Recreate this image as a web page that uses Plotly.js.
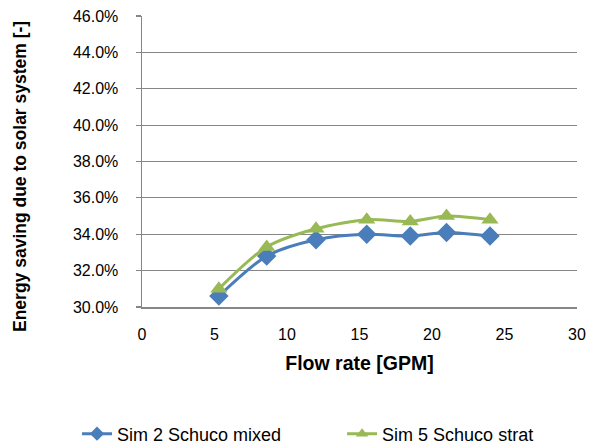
<!DOCTYPE html>
<html>
<head>
<meta charset="utf-8">
<script src="https://cdn.plot.ly/plotly-3.0.1.min.js"></script>
<style>html,body{margin:0;padding:0;background:#fff;}#chart{width:597px;height:448px;}</style>
</head>
<body>
<div id="chart"></div>
<script>
const flowRate = [5.3, 8.6, 12.0, 15.5, 18.5, 21.0, 24.0];
const simMixed = [30.6, 32.8, 33.7, 34.0, 33.9, 34.1, 33.9];
const simStrat = [31.0, 33.3, 34.3, 34.8, 34.7, 35.0, 34.8];
const seriesNames = ["Sim 2 Schuco mixed", "Sim 5 Schuco strat"];
const yTicks = [30, 32, 34, 36, 38, 40, 42, 44, 46];
const xTicks = [0, 5, 10, 15, 20, 25, 30];

const font = "Liberation Sans, Arial, sans-serif";
const blue = "#4A7EBB", green = "#98B954";
const traces = [
  {x: flowRate, y: simMixed, name: seriesNames[0], type: "scatter", mode: "lines+markers", showlegend: false,
   line: {color: blue, width: 3, shape: "spline", smoothing: 0.8},
   marker: {symbol: "diamond", size: 15, color: blue}, cliponaxis: false},
  {x: flowRate, y: simStrat, name: seriesNames[1], type: "scatter", mode: "lines+markers", showlegend: false,
   line: {color: green, width: 3, shape: "spline", smoothing: 0.8},
   marker: {symbol: "triangle-up", size: 15, color: green}, cliponaxis: false},
  {x: [null], y: [null], name: seriesNames[0], type: "scatter", mode: "lines+markers", legend: "legend",
   line: {color: blue, width: 3}, marker: {symbol: "diamond", size: 11, color: blue}},
  {x: [null], y: [null], name: seriesNames[1], type: "scatter", mode: "lines+markers", legend: "legend2",
   line: {color: green, width: 3}, marker: {symbol: "triangle-up", size: 11, color: green}}
];
const legendBase = {orientation: "h", xref: "container", yref: "container", xanchor: "left",
  y: 14 / 448, yanchor: "middle", font: {family: font, size: 18}, bgcolor: "rgba(0,0,0,0)"};
const layout = {
  width: 597, height: 448,
  margin: {l: 142, r: 20, t: 16, b: 141, autoexpand: false},
  paper_bgcolor: "#fff", plot_bgcolor: "#fff",
  font: {family: font, size: 16, color: "#000"},
  showlegend: true,
  legend: Object.assign({}, legendBase, {x: 0.129}),
  legend2: Object.assign({}, legendBase, {x: 0.573}),
  xaxis: {range: [0, 30], tickvals: xTicks, ticktext: xTicks.map(String), showgrid: false,
          zeroline: false, showline: true, linecolor: "#868686", linewidth: 1.5,
          ticks: "", ticklabelstandoff: 12, tickfont: {family: font, size: 16}, automargin: false,
          title: {text: "<b>Flow rate [GPM]</b>", font: {family: font, size: 19.5}, standoff: 14}},
  yaxis: {range: [30, 46], tickvals: yTicks, ticktext: yTicks.map(v => v.toFixed(1) + "%"),
          showgrid: true, gridcolor: "#868686", gridwidth: 1.2, zeroline: false,
          showline: true, linecolor: "#868686", linewidth: 1.5,
          ticks: "outside", ticklen: 5, tickcolor: "#868686", tickwidth: 1.2, ticklabelstandoff: 14,
          tickfont: {family: font, size: 16}, automargin: false},
  annotations: [{text: "<b>Energy saving due to solar system [-]</b>", textangle: -90,
                 xref: "paper", yref: "paper", x: -142/435 + 20/435, y: (307 - 177) / 291,
                 xanchor: "center", yanchor: "middle", showarrow: false,
                 font: {family: font, size: 17.5, color: "#000"}}]
};
Plotly.newPlot("chart", traces, layout, {displayModeBar: false, staticPlot: true});
</script>
</body>
</html>
